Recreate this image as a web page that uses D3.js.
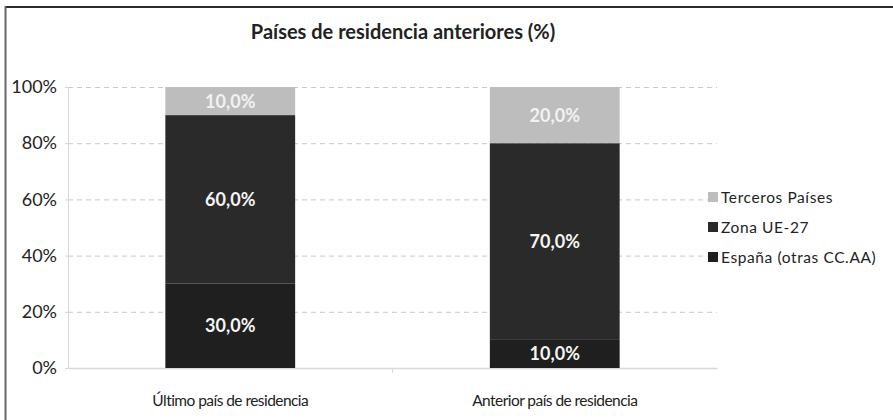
<!DOCTYPE html>
<html><head><meta charset="utf-8">
<script src="https://cdn.jsdelivr.net/npm/d3@7"></script>
<style>body{margin:0;background:#fff}svg{display:block}</style>
</head><body>
<script>
const categories = ["Último país de residencia", "Anterior país de residencia"];
const seriesNames = ["España (otras CC.AA)", "Zona UE-27", "Terceros Países"];
const espana = [30, 10];
const zonaUE = [60, 70];
const terceros = [10, 20];
const yTicks = [0, 20, 40, 60, 80, 100];
const colors = ["#1f1f1f", "#2a2a2a", "#bdbdbd"];
const title = "Países de residencia anteriores (%)";

const W = 893, H = 420;
const svg = d3.select("body").append("svg").attr("width", W).attr("height", H);
const font = "Lato, 'Open Sans', sans-serif";

// frame
svg.append("line").attr("x1",5).attr("x2",W).attr("y1",7).attr("y2",7).attr("stroke","#2a2a2a").attr("stroke-width",2);
svg.append("line").attr("x1",5.5).attr("x2",5.5).attr("y1",6).attr("y2",H).attr("stroke","#666").attr("stroke-width",2);

const m = {l:68, r:717, t:87, b:368};
const x = d3.scaleBand().domain(categories).range([m.l, m.r]).padding(0);
const y = d3.scaleLinear().domain([0,100]).range([m.b, m.t]);

svg.append("text").attr("x", 403).attr("y", 39).attr("text-anchor","middle")
  .attr("font-family", font).attr("font-weight", 700).attr("font-size", 20)
  .attr("fill","#222").text(title);

// gridlines
svg.append("g").selectAll("line").data(yTicks.filter(d=>d>0)).join("line")
  .attr("x1", m.l).attr("x2", m.r).attr("y1", d=>y(d)+0.5).attr("y2", d=>y(d)+0.5)
  .attr("stroke","#c8c8c8").attr("stroke-dasharray","5,4");

// y axis
const yAxis = svg.append("g").attr("transform",`translate(${m.l},0)`)
  .call(d3.axisLeft(y).tickValues(yTicks).tickFormat(d=>d+"%").tickSize(3).tickPadding(8));
yAxis.select(".domain").attr("stroke","#d8d8d8");
yAxis.selectAll(".tick line").attr("stroke","#d8d8d8");
yAxis.selectAll("text").attr("font-family",font).attr("font-size",18).attr("fill","#222");

// x axis
const xAxis = svg.append("g").attr("transform",`translate(0,${m.b})`)
  .call(d3.axisBottom(x).tickSize(0).tickPadding(27));
xAxis.select(".domain").attr("stroke","#d8d8d8").attr("stroke-width",1.5);
xAxis.selectAll("text").attr("font-family",font).attr("font-size",15.5)
  .attr("letter-spacing",-0.55).attr("fill","#222");
svg.append("line").attr("x1", x(categories[1])).attr("x2", x(categories[1]))
  .attr("y1", m.b).attr("y2", m.b+5).attr("stroke","#d8d8d8");

// stacked bars
const rows = categories.map((c,i)=>({cat:c, s0:espana[i], s1:zonaUE[i], s2:terceros[i]}));
const stack = d3.stack().keys(["s0","s1","s2"])(rows);
const bw = x.bandwidth()*0.4;
const bx = c => x(c) + (x.bandwidth()-bw)/2;
stack.forEach((layer, li) => {
  const g = svg.append("g");
  g.selectAll("rect").data(layer).join("rect")
    .attr("x", d=>bx(d.data.cat)).attr("width", bw)
    .attr("y", d=>y(d[1])).attr("height", d=>y(d[0])-y(d[1]))
    .attr("fill", colors[li]);
  g.selectAll("text").data(layer).join("text")
    .attr("x", d=>bx(d.data.cat)+bw/2)
    .attr("y", d=>(y(d[0])+y(d[1]))/2 + 6.5)
    .attr("text-anchor","middle").attr("font-family",font).attr("font-weight",700)
    .attr("font-size",18).attr("fill", li===2 ? "#f2f2f2" : "#f5f5f5")
    .text(d => (d[1]-d[0]).toFixed(1).replace(".", ",") + "%");
});

// legend
const legendOrder = [2,1,0];
const lg = svg.append("g");
legendOrder.forEach((si, k) => {
  const yy = 198 + k*30;
  lg.append("rect").attr("x",708).attr("y",yy-6).attr("width",10).attr("height",10).attr("fill",colors[si]);
  lg.append("text").attr("x",721).attr("y",yy+5).attr("font-family",font).attr("font-size",15.5)
    .attr("letter-spacing",0.6).attr("fill","#222").text(seriesNames[si]);
});
</script>
</body></html>
